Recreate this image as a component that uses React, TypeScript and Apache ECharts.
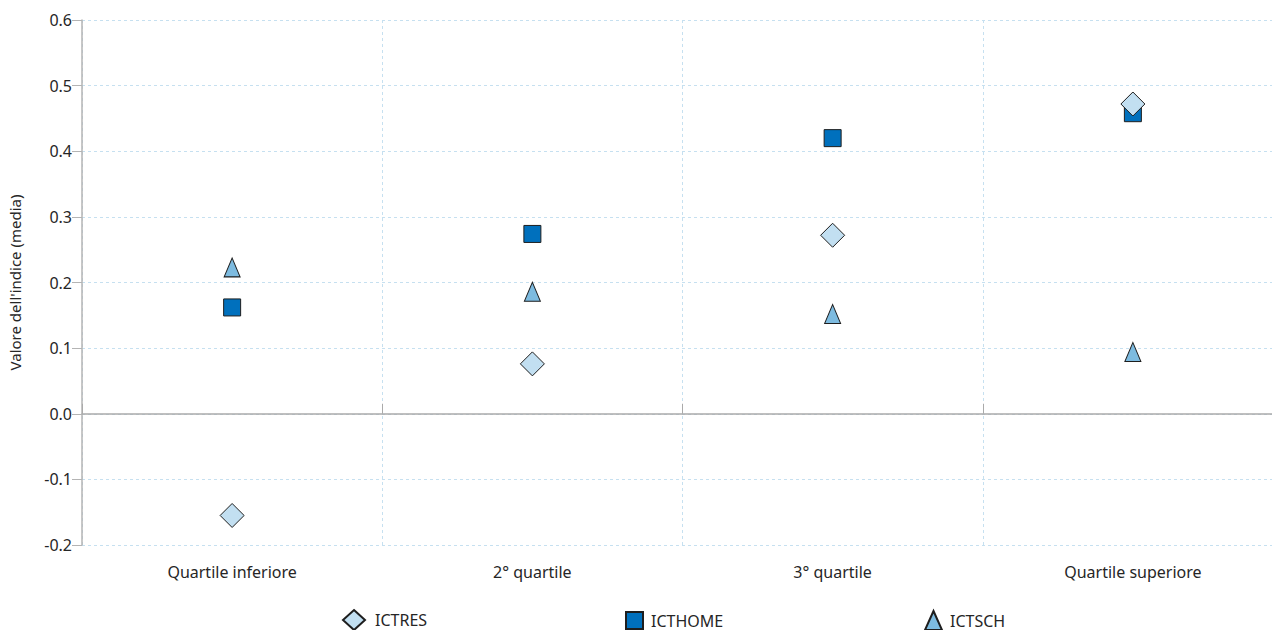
import React, { useEffect, useRef } from "react";
import * as echarts from "echarts";

const categories = ["Quartile inferiore", "2° quartile", "3° quartile", "Quartile superiore"];
const ictres = [-0.155, 0.076, 0.272, 0.472];
const icthome = [0.162, 0.274, 0.42, 0.458];
const ictsch = [0.223, 0.186, 0.152, 0.094];
const yTicks = [-0.2, -0.1, 0.0, 0.1, 0.2, 0.3, 0.4, 0.5, 0.6];

const FONT = "'Noto Sans', 'Open Sans', sans-serif";
const TXT = "#262626";
const BORDER = "#1e1e1e";
const FS = 16;

export default function App() {
  const ref = useRef<HTMLDivElement>(null);
  useEffect(() => {
    const chart = echarts.init(ref.current!, null, { renderer: "svg" });
    const legendBase = {
      top: 609,
      padding: 0,
      itemWidth: 22,
      itemHeight: 20,
      itemGap: 8,
      textStyle: { fontSize: FS, color: TXT, fontFamily: FONT, padding: [0, 0, 0, 5], lineHeight: 18 },
      selectedMode: false,
    };
    chart.setOption({
      animation: false,
      textStyle: { fontFamily: FONT },
      grid: { left: 82, right: -11, top: 20, bottom: 85, containLabel: false, outerBoundsMode: "none" },
      legend: [
        { ...legendBase, left: 342, data: [{ name: "ICTRES", icon: "diamond" }] },
        {
          ...legendBase,
          left: 625,
          top: 611,
          itemWidth: 17,
          itemHeight: 17,
          textStyle: { ...legendBase.textStyle, padding: [0, 0, 0, 3] },
          data: [{ name: "ICTHOME", icon: "rect" }],
        },
        {
          ...legendBase,
          left: 924,
          top: 610,
          itemWidth: 17,
          itemHeight: 19,
          textStyle: { ...legendBase.textStyle, padding: [0, 0, 0, 3] },
          data: [{ name: "ICTSCH", icon: "triangle" }],
        },
      ],
      xAxis: [
        {
          type: "category",
          data: categories,
          position: "bottom",
          axisLine: { show: false, onZero: false },
          axisTick: { show: false },
          axisLabel: { fontSize: FS, color: TXT, margin: 19, fontFamily: FONT },
          splitLine: { show: true, lineStyle: { color: "#c6e0f0", type: [3, 3], width: 1 } },
        },
        {
          type: "category",
          data: categories,
          axisLine: { show: true, onZero: true, lineStyle: { color: "#aaaaaa", width: 1.5 } },
          axisTick: { show: true, length: 10, lineStyle: { color: "#aaaaaa" } },
          axisLabel: { show: false },
          splitLine: { show: false },
        },
      ],
      yAxis: {
        type: "value",
        min: -0.2,
        max: 0.6,
        interval: 0.1,
        name: "Valore dell'indice (media)",
        nameLocation: "middle",
        nameGap: 60,
        nameTextStyle: { fontSize: 15, color: TXT, fontFamily: FONT },
        axisLine: { show: true, lineStyle: { color: "#b4b4b4", width: 1.5 } },
        axisTick: { show: true, length: 10, lineStyle: { color: "#b4b4b4" } },
        axisLabel: {
          fontSize: FS,
          color: TXT,
          margin: 10,
          fontFamily: FONT,
          formatter: (v: number) => {
            const t = yTicks.find((x) => Math.abs(x - v) < 1e-9);
            return (t !== undefined ? t : v).toFixed(1);
          },
        },
        splitLine: { show: true, lineStyle: { color: "#c6e0f0", type: [3, 3], width: 1 } },
      },
      series: [
        {
          name: "ICTSCH",
          type: "scatter",
          symbol: "triangle",
          symbolSize: [16, 19],
          data: ictsch,
          itemStyle: { color: "#7dbbe0", borderColor: BORDER, borderWidth: 1, opacity: 1 },
          z: 3,
        },
        {
          name: "ICTHOME",
          type: "scatter",
          symbol: "rect",
          symbolSize: 17,
          data: icthome,
          itemStyle: { color: "#0070bd", borderColor: BORDER, borderWidth: 1, opacity: 1 },
          z: 4,
        },
        {
          name: "ICTRES",
          type: "scatter",
          symbol: "diamond",
          symbolSize: [24, 24],
          data: ictres,
          itemStyle: { color: "#c2dff1", borderColor: BORDER, borderWidth: 1, opacity: 1 },
          z: 5,
        },
      ],
    });
    return () => chart.dispose();
  }, []);
  return (
    <div
      ref={ref}
      style={{ position: "fixed", left: 0, top: 0, width: 1272, height: 630, background: "#fff" }}
    />
  );
}
